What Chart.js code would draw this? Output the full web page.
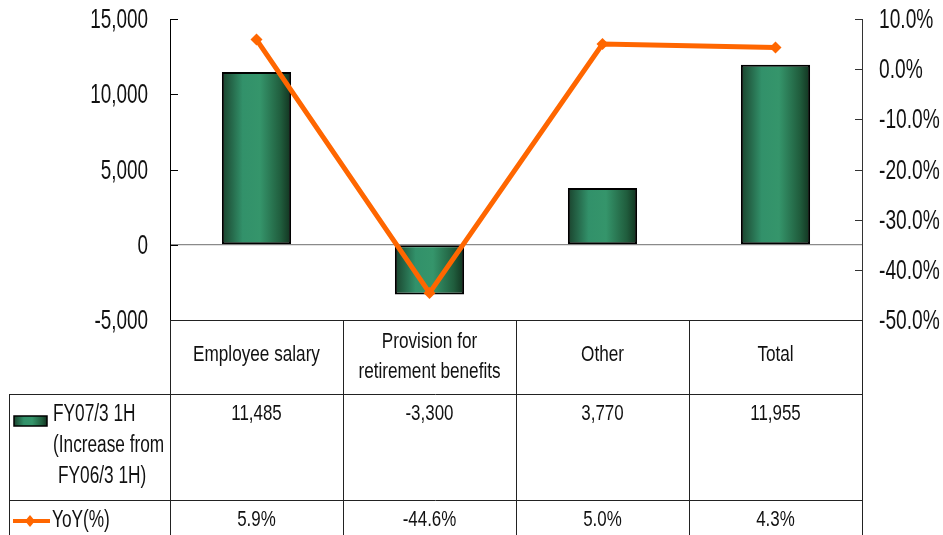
<!DOCTYPE html>
<html><head><meta charset="utf-8">
<script src="https://cdn.jsdelivr.net/npm/chart.js@4"></script>
<style>html,body{margin:0;padding:0;background:#fff}#wrap{width:943px;height:535px}</style>
</head><body><div id="wrap"><canvas id="c" width="943" height="535"></canvas></div>
<script>
// ---- data ----
const categories = [["Employee salary"], ["Provision for", "retirement benefits"], ["Other"], ["Total"]];
const increaseValues = [11485, -3300, 3770, 11955];
const yoyValues = [5.9, -44.6, 5.0, 4.3];
const increaseLabels = ["11,485", "-3,300", "3,770", "11,955"];
const yoyLabels = ["5.9%", "-44.6%", "5.0%", "4.3%"];
const barSeriesName = ["FY07/3 1H", "(Increase from", "FY06/3 1H)"];
const lineSeriesName = ["YoY(%)"];
const leftAxis = { min: -5000, max: 15000, step: 5000 };
const rightAxis = { min: -50, max: 10, step: 10 };

const FONT = '"Liberation Sans", Arial, sans-serif';
const ORANGE = '#ff6600';

function barGradient(ctx2d, x0, x1) {
  const g = ctx2d.createLinearGradient(x0, 0, x1, 0);
  g.addColorStop(0, '#1a432d');
  g.addColorStop(0.3, '#32916a');
  g.addColorStop(0.55, '#35956b');
  g.addColorStop(0.85, '#205d3d');
  g.addColorStop(1, '#12321f');
  return g;
}

function txt(ctx, s, x, y, size, sx, align) {
  ctx.save();
  ctx.font = size + 'px ' + FONT;
  ctx.fillStyle = '#111';
  ctx.textBaseline = 'middle';
  ctx.textAlign = align;
  ctx.translate(x, y);
  ctx.scale(sx, 1);
  ctx.fillText(s, 0, 0);
  ctx.restore();
}

const BAR_PCT = 0.4;

const decor = {
  id: 'decor',
  afterDraw(chart) {
    const ctx = chart.ctx;
    const ca = chart.chartArea;
    const ys = chart.scales.y, yr = chart.scales.y1, xs = chart.scales.x;
    ctx.save();
    // inward tick marks + labels, left
    ctx.strokeStyle = '#000'; ctx.lineWidth = 1;
    ys.ticks.forEach(t => {
      const y = Math.round(ys.getPixelForValue(t.value)) + 0.5;
      ctx.beginPath(); ctx.moveTo(ca.left, y); ctx.lineTo(ca.left + 8, y); ctx.stroke();
      txt(ctx, t.value.toLocaleString('en-US'), 148, y + 1, 27, 0.7, 'right');
    });
    ctx.strokeStyle = '#333';
    yr.ticks.forEach(t => {
      const y = Math.round(yr.getPixelForValue(t.value)) + 0.5;
      ctx.beginPath(); ctx.moveTo(ca.right - 7, y); ctx.lineTo(ca.right, y); ctx.stroke();
      txt(ctx, t.value.toFixed(1) + '%', 879, y + 1, 27, 0.71, 'left');
    });

    // ---- data table ----
    const n = categories.length;
    const colW = (ca.right - ca.left) / n;
    const top = ca.bottom, r1 = 394, r2 = 500, bot = chart.height;
    const tableLeft = 9;
    ctx.strokeStyle = '#222'; ctx.lineWidth = 1;
    const hl = (x0, x1, y) => { ctx.beginPath(); ctx.moveTo(x0, Math.round(y) + 0.5); ctx.lineTo(x1, Math.round(y) + 0.5); ctx.stroke(); };
    const vl = (x, y0, y1) => { ctx.beginPath(); ctx.moveTo(Math.round(x) + 0.5, y0); ctx.lineTo(Math.round(x) + 0.5, y1); ctx.stroke(); };
    hl(ca.left, ca.right, top);
    hl(tableLeft, ca.right, r1);
    hl(tableLeft, ca.right, r2);
    vl(tableLeft, r1, bot);
    for (let i = 0; i <= n; i++) vl(ca.left + i * colW, top, bot);

    categories.forEach((lines, i) => {
      const cx = xs.getPixelForValue(i);
      if (lines.length === 1) txt(ctx, lines[0], cx, 355, 22, 0.78, 'center');
      else lines.forEach((l, k) => txt(ctx, l, cx, 342 + k * 30, 22, 0.78, 'center'));
      txt(ctx, increaseLabels[i], cx, 414, 22, 0.77, 'center');
      txt(ctx, yoyLabels[i], cx, 520, 22, 0.77, 'center');
    });

    // series labels with legend swatches
    ctx.fillStyle = barGradient(ctx, 14, 47);
    ctx.fillRect(14, 416, 33, 10);
    ctx.strokeStyle = '#000'; ctx.lineWidth = 1.5;
    ctx.strokeRect(14, 416, 33, 10);
    barSeriesName.forEach((l, k) => txt(ctx, l, k === 2 ? 58 : 53, 415 + k * 31, 23, 0.75, 'left'));

    ctx.strokeStyle = ORANGE; ctx.lineWidth = 4;
    ctx.beginPath(); ctx.moveTo(13, 521); ctx.lineTo(50, 521); ctx.stroke();
    ctx.fillStyle = ORANGE;
    ctx.beginPath(); ctx.moveTo(30, 515); ctx.lineTo(35, 521); ctx.lineTo(30, 527); ctx.lineTo(25, 521); ctx.closePath(); ctx.fill();
    txt(ctx, lineSeriesName[0], 52, 521, 23, 0.75, 'left');
    ctx.restore();
  }
};

new Chart(document.getElementById('c'), {
  data: {
    labels: categories.map(c => c.join(' ')),
    datasets: [
      {
        type: 'line', label: 'YoY(%)', data: yoyValues, yAxisID: 'y1', order: 0,
        borderColor: ORANGE, backgroundColor: ORANGE, borderWidth: 5, tension: 0,
        pointStyle: 'rectRot', pointRadius: 6, pointBorderWidth: 0, pointBackgroundColor: ORANGE
      },
      {
        type: 'bar', label: 'FY07/3 1H (Increase from FY06/3 1H)', data: increaseValues, yAxisID: 'y', order: 1,
        barPercentage: BAR_PCT, categoryPercentage: 1,
        borderColor: '#000', borderWidth: 2, borderSkipped: false,
        backgroundColor: (c) => {
          const chart = c.chart, xs = chart.scales.x;
          if (!xs || c.dataIndex == null || !chart.chartArea) return '#2e8b5e';
          const cx = xs.getPixelForValue(c.dataIndex);
          const w = (chart.chartArea.right - chart.chartArea.left) / categories.length * BAR_PCT;
          return barGradient(chart.ctx, cx - w / 2, cx + w / 2);
        }
      }
    ]
  },
  options: {
    responsive: false, animation: false, devicePixelRatio: 1,
    layout: { padding: { top: 19, bottom: 215, left: 0, right: 0 } },
    plugins: { legend: { display: false }, tooltip: { enabled: false } },
    scales: {
      x: { type: 'category', display: false, offset: true },
      y: {
        position: 'left', min: leftAxis.min, max: leftAxis.max,
        ticks: { stepSize: leftAxis.step, display: false },
        grid: { drawTicks: false, color: (c) => (c.tick && c.tick.value === 0) ? '#8a8a8a' : 'rgba(0,0,0,0)', lineWidth: 1.2 },
        border: { display: true, color: '#000', width: 1 },
        afterFit: (s) => { s.width = 170; }
      },
      y1: {
        position: 'right', min: rightAxis.min, max: rightAxis.max,
        ticks: { stepSize: rightAxis.step, display: false },
        grid: { display: false, drawTicks: false },
        border: { display: true, color: '#333', width: 1 },
        afterFit: (s) => { s.width = 81; }
      }
    }
  },
  plugins: [decor]
});
</script>
</body></html>
